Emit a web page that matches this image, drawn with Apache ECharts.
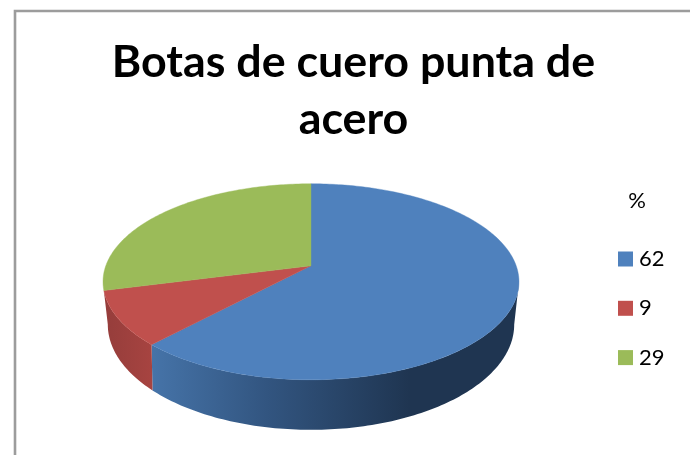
<!DOCTYPE html>
<html><head><meta charset="utf-8">
<style>html,body{margin:0;padding:0;background:#fff}#c{width:690px;height:455px}</style>
<script src="https://cdn.jsdelivr.net/npm/echarts@6/dist/echarts.min.js"></script>
</head><body><div id="c"></div>
<script>
const titleLines = ['Botas de cuero punta de', 'acero'];
const legendTitle = '%';
const sliceLabels = ['62', '9', '29'];
const sliceValues = [62, 9, 29];
const topColors = ['#4F81BD', '#C0504D', '#9BBB59'];

const total = sliceValues.reduce((a, b) => a + b, 0);
const topPlane = {cx: 311, cy: 265.8, a: 95.4, b: 205.2, k: 0.163};
const basePlane = {cx: 311, cy: 304.5, a: 101.5, b: 199.5, k: 0.19};
const topWall = [99.4, 255.6];
const baseWall = [101, 259];

function project(p, deg) {
  const t = deg * Math.PI / 180, u = Math.sin(t), v = -Math.cos(t), d = 1 - p.k * v;
  return [p.cx + p.b * u / d, p.cy + p.a * v / d];
}
function arc(p, a0, a1) {
  const n = Math.max(2, Math.ceil(Math.abs(a1 - a0)));
  const pts = [];
  for (let i = 0; i <= n; i++) pts.push(project(p, a0 + (a1 - a0) * i / n));
  return pts;
}
function wallFill(i) {
  const G = echarts.graphic.LinearGradient;
  if (i === 0) return new G(150, 0, 410, 0, [
    {offset: 0, color: '#4674A9'}, {offset: 0.45, color: '#325580'}, {offset: 1, color: '#1F3551'}], true);
  return new G(104, 0, 155, 0, [
    {offset: 0, color: '#953D3B'}, {offset: 1, color: '#A84441'}], true);
}
function clampWall(a0, a1, range, first, last) {
  // The outermost slices on each side run out to the plane's silhouette point.
  return [first ? range[0] : Math.max(a0, range[0]), last ? range[1] : Math.min(a1, range[1])];
}
function sliceRender(i) {
  return function () {
    const before = sliceValues.slice(0, i).reduce((a, b) => a + b, 0);
    const a0 = before / total * 360, a1 = (before + sliceValues[i]) / total * 360;
    const children = [];
    if (a1 > topWall[0] && a0 < topWall[1]) {
      const first = a0 <= topWall[0], last = a1 >= topWall[1];
      const t = clampWall(a0, a1, topWall, first, last);
      const b = clampWall(a0, a1, baseWall, first, last);
      children.push({
        type: 'polygon', z2: 1,
        shape: {points: arc(topPlane, t[0], t[1]).concat(arc(basePlane, b[1], b[0]))},
        style: {fill: wallFill(i), stroke: null}
      });
    }
    children.push({
      type: 'polygon', z2: 2,
      shape: {points: [[topPlane.cx, topPlane.cy]].concat(arc(topPlane, a0, a1))},
      style: {fill: topColors[i], stroke: topColors[i], lineWidth: 0.4}
    });
    return {type: 'group', children};
  };
}

const chart = echarts.init(document.getElementById('c'), null, {renderer: 'canvas'});
chart.setOption({
  animation: false,
  backgroundColor: '#fff',
  title: [
    {text: titleLines.join('\n'), left: 348.5, top: 29, textAlign: 'center',
     textStyle: {fontFamily: 'Lato', fontWeight: 'bold', fontSize: 44.8, lineHeight: 57, color: '#000'}},
    {text: legendTitle, left: 632, top: 185, textAlign: 'center',
     textStyle: {fontFamily: 'Lato', fontWeight: 'normal', fontSize: 22, color: '#000'}}
  ],
  legend: {
    orient: 'vertical', left: 618, top: 248, itemWidth: 15, itemHeight: 15, itemGap: 27.3,
    icon: 'rect', selectedMode: false, padding: 0,
    data: sliceLabels,
    textStyle: {fontFamily: 'Lato', fontSize: 22, color: '#000', padding: [0, 0, 0, 1]}
  },
  graphic: [{
    type: 'polyline', silent: true,
    shape: {points: [[15, 455], [15, 11], [690, 11]]},
    style: {stroke: '#9C9C9C', lineWidth: 2.6, fill: null}
  }],
  series: sliceLabels.map((name, i) => ({
    type: 'custom', name, coordinateSystem: 'none',
    itemStyle: {color: topColors[i]},
    data: [sliceValues[i]],
    renderItem: sliceRender(i)
  }))
});
</script></body></html>
